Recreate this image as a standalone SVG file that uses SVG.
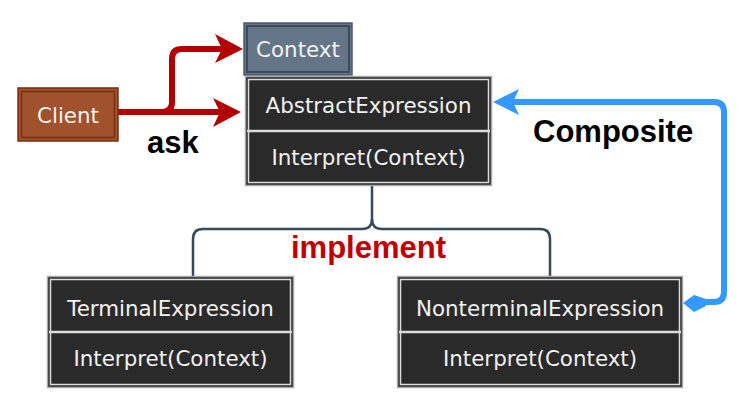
<svg xmlns="http://www.w3.org/2000/svg" width="750" height="415" viewBox="0 0 750 415">
<style>
.nt{font-family:"DejaVu Sans",Verdana,sans-serif;font-size:21.4px;fill:#f2f2f2;text-anchor:middle}
.lbl{font-family:"Liberation Sans",Arial,sans-serif;font-size:31px;font-weight:bold}
.box{fill:#2a2a2a;stroke:#a8a8a8;stroke-width:1.5}
.inner{fill:none;stroke:#dcdcdc;stroke-width:1.5}
.div{stroke:#dcdcdc;stroke-width:2.5}
.red{fill:none;stroke:#b30000;stroke-width:6}
.blue{fill:none;stroke:#3399ff;stroke-width:6}
.impl{fill:none;stroke:#37495c;stroke-width:2.5}
</style>
<g id="connectors">
<path class="red" d="M118,112 H222"/>
<path d="M241,112 L213,98 L220,112 L213,127 Z" fill="#b30000"/>
<path class="red" d="M118,112 H162 Q172,112 172,102 V59 Q172,49 182,49 H224"/>
<path d="M243,49 L215,34 L222,49 L215,63 Z" fill="#b30000"/>
<path class="blue" d="M700,302 H714 Q724,302 724,292 V112 Q724,102 714,102 H512"/>
<path d="M493,102 L519,89 L513,102 L519,115 Z" fill="#3399ff"/>
<path d="M683,303 L694,295 L706,299 L706,306 L694,312 Z" fill="#3399ff"/>
<path class="impl" d="M372,186 V219 Q372,229 362,229 H203 Q193,229 193,239 V276"/>
<path class="impl" d="M372,219 Q372,229 382,229 H540 Q550,229 550,239 V276"/>
</g>
<g id="client">
<rect x="18" y="88" width="100" height="53" fill="#a0522d" stroke="#7b2d0e" stroke-width="1.5"/>
<rect x="21.5" y="91.5" width="93" height="46" fill="none" stroke="#7b2d0e" stroke-width="1.5"/>
<text class="nt" x="68" y="123">Client</text>
</g>
<g id="context">
<rect x="244" y="23" width="108" height="52" fill="#647588" stroke="#4a5a6e" stroke-width="1.5"/>
<rect x="247" y="26" width="102" height="46" fill="none" stroke="#3b4b5e" stroke-width="2"/>
<text class="nt" x="298" y="57">Context</text>
</g>
<g id="abstract">
<rect class="box" x="245.5" y="76.5" width="246" height="109"/>
<rect class="inner" x="248.5" y="79.5" width="240" height="103"/>
<line class="div" x1="247" y1="131" x2="490" y2="131"/>
<text class="nt" x="368.5" y="113">AbstractExpression</text>
<text class="nt" x="368.5" y="165">Interpret(Context)</text>
</g>
<g id="terminal">
<rect class="box" x="47.5" y="276.5" width="246" height="111"/>
<rect class="inner" x="50.5" y="279.5" width="240" height="105"/>
<line class="div" x1="49" y1="332" x2="292" y2="332"/>
<text class="nt" x="170.5" y="316">TerminalExpression</text>
<text class="nt" x="170.5" y="366">Interpret(Context)</text>
</g>
<g id="nonterminal">
<rect class="box" x="397.5" y="276.5" width="285" height="111"/>
<rect class="inner" x="400.5" y="279.5" width="279" height="105"/>
<line class="div" x1="399" y1="332" x2="681" y2="332"/>
<text class="nt" x="540" y="316">NonterminalExpression</text>
<text class="nt" x="540" y="366">Interpret(Context)</text>
</g>
<g id="labels">
<text class="lbl" x="147" y="153" fill="#000">ask</text>
<text class="lbl" x="533" y="142" fill="#000">Composite</text>
<text class="lbl" x="291" y="258" fill="#c00000">implement</text>
</g>
</svg>
